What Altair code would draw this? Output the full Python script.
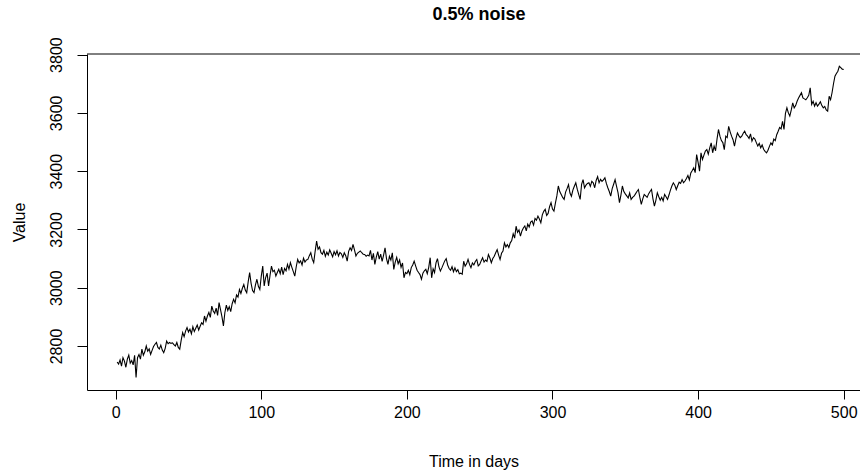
import altair as alt
import pandas as pd

# Daily values (day 1..500)
values = [
    2745, 2738, 2752, 2731, 2760, 2748, 2727, 2755, 2769, 2741, 2750, 2735, 2768, 2692, 2760, 2771, 2755, 2789, 2768, 2780,
    2800, 2782, 2790, 2771, 2785, 2798, 2806, 2812, 2795, 2790, 2803, 2786, 2777, 2792, 2817, 2808, 2812, 2809, 2811, 2805,
    2800, 2812, 2795, 2789, 2820, 2846, 2832, 2851, 2863, 2848, 2858, 2842, 2866, 2850, 2861, 2872, 2855, 2868, 2880, 2874,
    2903, 2885, 2903, 2915, 2898, 2937, 2920, 2912, 2930, 2905, 2949, 2925, 2900, 2869, 2915, 2940, 2922, 2935, 2918, 2945,
    2960, 2948, 2975, 2968, 2994, 2980, 2998, 3011, 2992, 2983, 3020, 3052, 3015, 2990, 2983, 3010, 3029, 3005, 2994, 3040,
    3074, 3006, 3035, 3050, 3006, 3042, 3074, 3055, 3060, 3040, 3052, 3063, 3048, 3071, 3045, 3066, 3058, 3080, 3064, 3086,
    3070, 3055, 3040, 3072, 3097, 3085, 3092, 3078, 3101, 3088, 3095, 3097, 3110, 3120, 3098, 3086, 3125, 3160, 3132, 3140,
    3120, 3115, 3128, 3108, 3122, 3112, 3130, 3118, 3106, 3124, 3113, 3127, 3109, 3121, 3116, 3104, 3120, 3110, 3091, 3125,
    3137, 3128, 3149, 3130, 3109, 3118, 3122, 3126, 3120, 3115, 3114, 3108, 3112, 3109, 3128, 3095, 3118, 3080, 3105, 3124,
    3098, 3115, 3090, 3112, 3137, 3100, 3080, 3108, 3095, 3120, 3063, 3088, 3104, 3082, 3095, 3070, 3085, 3034, 3052, 3048,
    3060, 3045, 3069, 3078, 3091, 3075, 3060, 3052, 3045, 3029, 3050, 3058, 3063, 3048, 3070, 3103, 3034, 3065, 3052, 3085,
    3100, 3072, 3057, 3068, 3080, 3092, 3100, 3078, 3066, 3060, 3072, 3055, 3068, 3055, 3062, 3048, 3050, 3046, 3091, 3074,
    3082, 3097, 3080, 3069, 3085, 3078, 3090, 3097, 3075, 3080, 3092, 3103, 3088, 3095, 3090, 3114, 3102, 3086, 3100, 3108,
    3120, 3131, 3112, 3097, 3118, 3126, 3154, 3140, 3148, 3138, 3154, 3162, 3185, 3170, 3211, 3190, 3198, 3177, 3195, 3205,
    3212, 3195, 3218, 3208, 3225, 3229, 3215, 3238, 3232, 3246, 3236, 3223, 3250, 3262, 3269, 3248, 3255, 3278, 3292, 3270,
    3263, 3290, 3315, 3349, 3330, 3320, 3310, 3303, 3328, 3340, 3354, 3325, 3314, 3335, 3348, 3360, 3338, 3320, 3303, 3355,
    3371, 3343, 3352, 3358, 3360, 3348, 3365, 3360, 3343, 3368, 3381, 3360, 3372, 3365, 3370, 3377, 3358, 3343, 3330, 3314,
    3340, 3355, 3371, 3348, 3326, 3292, 3318, 3349, 3330, 3322, 3315, 3308, 3325, 3303, 3310, 3314, 3322, 3330, 3337, 3310,
    3286, 3305, 3320, 3315, 3310, 3322, 3330, 3337, 3305, 3280, 3300, 3326, 3312, 3300, 3310, 3298, 3320, 3312, 3303, 3318,
    3335, 3349, 3360, 3352, 3337, 3350, 3362, 3358, 3371, 3360, 3366, 3375, 3385, 3370, 3394, 3402, 3411, 3395, 3457, 3430,
    3400, 3463, 3440, 3455, 3469, 3474, 3458, 3480, 3497, 3463, 3486, 3470, 3510, 3543, 3520, 3505, 3498, 3474, 3520, 3515,
    3554, 3535, 3520, 3508, 3486, 3512, 3531, 3522, 3515, 3520, 3530, 3537, 3525, 3520, 3512, 3528, 3503, 3515, 3510, 3498,
    3486, 3495, 3480, 3490, 3475, 3468, 3463, 3472, 3485, 3497, 3490, 3510, 3505, 3525, 3537, 3550, 3545, 3571, 3543, 3598,
    3617, 3600, 3589, 3610, 3634, 3617, 3625, 3640, 3651, 3660, 3669, 3651, 3648, 3645, 3652, 3660, 3686, 3629, 3640, 3623,
    3635, 3623, 3630, 3638, 3625, 3617, 3622, 3610, 3606, 3657, 3645, 3669, 3700, 3726, 3735, 3743, 3760, 3755, 3750, 3749,
]
days = list(range(1, len(values) + 1))

x_ticks = [0, 100, 200, 300, 400, 500]
y_ticks = [2800, 3000, 3200, 3400, 3600, 3800]

title_text = "0.5% noise"
x_title = "Time in days"
y_title = "Value"

df = pd.DataFrame({"day": days, "value": values})

W = 773
H = 336
FONT = "Liberation Sans"

line = alt.Chart(df).mark_line(color="black", strokeWidth=1.1, clip=True).encode(
    x=alt.X(
        "day:Q",
        scale=alt.Scale(domain=[-19.7, 511.2], nice=False, zero=False),
        axis=alt.Axis(
            values=x_ticks, title=x_title, grid=False, tickSize=9, format="d",
            labelPadding=5, titlePadding=0, titleY=71, titleBaseline="middle",
            labelFontSize=16, titleFontSize=16, titleFontWeight="normal",
            labelFont=FONT, titleFont=FONT, domainColor="black", tickColor="black",
            labelColor="black", titleColor="black", labelFlush=False,
        ),
    ),
    y=alt.Y(
        "value:Q",
        scale=alt.Scale(domain=[2649, 3802], nice=False, zero=False),
        axis=alt.Axis(
            values=y_ticks, title=y_title, grid=False, tickSize=10, format="d",
            labelAngle=270, labelAlign="center", labelBaseline="bottom",
            labelPadding=13, titleAngle=270, titleX=-68, titleY=H / 2,
            titleAlign="center", titleBaseline="middle",
            labelFontSize=16, titleFontSize=16, titleFontWeight="normal",
            labelFont=FONT, titleFont=FONT, domainColor="black", tickColor="black",
            labelColor="black", titleColor="black", labelFlush=False,
        ),
    ),
)

frame_top = alt.Chart(pd.DataFrame({"a": [0]})).mark_rule(color="black", strokeWidth=1).encode(
    x=alt.value(0), x2=alt.value(W), y=alt.value(0)
)

title_mark = alt.Chart(pd.DataFrame({"t": [title_text]})).mark_text(
    font=FONT, fontSize=18, fontWeight="bold", color="black",
    align="center", baseline="middle",
).encode(text="t:N", x=alt.value(392), y=alt.value(-39))

chart = alt.layer(line, frame_top, title_mark).properties(
    width=W,
    height=H,
    autosize=alt.AutoSizeParams(type="none"),
    padding={"left": 87, "top": 54, "right": 0, "bottom": 84},
).configure_view(stroke=None)

chart.save("out.html", embed_options={"renderer": "svg", "actions": False})
